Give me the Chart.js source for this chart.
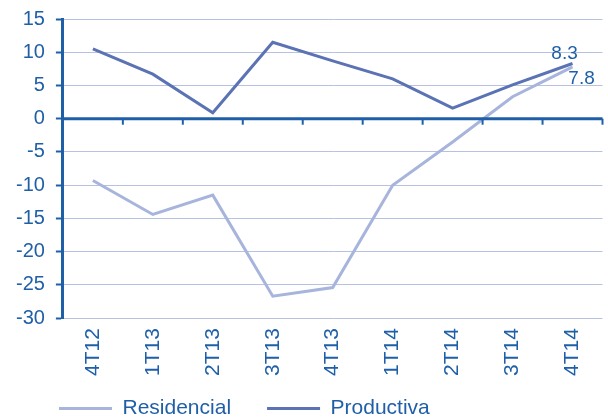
<!DOCTYPE html>
<html>
<head>
<meta charset="utf-8">
<script src="https://cdn.jsdelivr.net/npm/chart.js"></script>
<style>
  html, body { margin: 0; padding: 0; background: #fff; }
  #wrap { width: 608px; height: 420px; }
</style>
</head>
<body>
<div id="wrap"><canvas id="chart" width="608" height="420"></canvas></div>
<script>
const categories = ['4T12', '1T13', '2T13', '3T13', '4T13', '1T14', '2T14', '3T14', '4T14'];
const residencial = [-9.3, -14.4, -11.5, -26.7, -25.4, -10.0, -3.5, 3.3, 7.8];
const productiva = [10.5, 6.7, 0.9, 11.5, 8.7, 6.0, 1.6, 5.1, 8.3];
const yTicks = [15, 10, 5, 0, -5, -10, -15, -20, -25, -30];

const axisBlue = '#1f5fa8';
const gridBlue = '#b7c2e2';
const fontFamily = '"Liberation Sans", Arial, sans-serif';

// zero line with tick marks between categories, plus end labels
const zeroAxis = {
  id: 'zeroAxis',
  afterLayout(chart) {
    // legend uses wide padding for item spacing; pull it up and right
    chart.legend.left += 18;
    chart.legend.top -= 24;
  },
  afterDatasetsDraw(chart) {
    const ctx = chart.ctx;
    const x = chart.scales.x, y = chart.scales.y;
    const y0 = y.getPixelForValue(0);
    const step = x.getPixelForValue(1) - x.getPixelForValue(0);
    ctx.save();
    ctx.strokeStyle = axisBlue;
    ctx.lineWidth = 3;
    ctx.beginPath();
    ctx.moveTo(chart.chartArea.left, y0);
    ctx.lineTo(chart.chartArea.right, y0);
    ctx.stroke();
    ctx.lineWidth = 2;
    for (let i = 0; i < categories.length; i++) {
      const px = x.getPixelForValue(i) + step / 2;
      ctx.beginPath();
      ctx.moveTo(px, y0);
      ctx.lineTo(px, y0 + 6);
      ctx.stroke();
    }
    // last-value labels
    const last = categories.length - 1;
    ctx.fillStyle = axisBlue;
    ctx.font = '19px ' + fontFamily;
    ctx.textAlign = 'center';
    ctx.textBaseline = 'middle';
    const px = x.getPixelForValue(last);
    ctx.fillText(productiva[last].toFixed(1), px - 8, y.getPixelForValue(productiva[last]) - 10);
    ctx.fillText(residencial[last].toFixed(1), px + 9, y.getPixelForValue(residencial[last]) + 12);
    ctx.restore();
  }
};

new Chart(document.getElementById('chart'), {
  type: 'line',
  data: {
    labels: categories,
    datasets: [
      {
        label: 'Residencial',
        data: residencial,
        borderColor: '#a7b4dc',
        backgroundColor: '#a7b4dc',
        borderWidth: 3,
        pointRadius: 0,
        tension: 0
      },
      {
        label: 'Productiva',
        data: productiva,
        borderColor: '#5b72b4',
        backgroundColor: '#5b72b4',
        borderWidth: 3,
        pointRadius: 0,
        tension: 0
      }
    ]
  },
  options: {
    responsive: false,
    animation: false,
    layout: { padding: { left: 5, right: 5, top: 0, bottom: -33 } },
    plugins: {
      tooltip: { enabled: false },
      legend: {
        position: 'bottom',
        align: 'start',
        labels: {
          usePointStyle: true,
          pointStyle: 'line',
          pointStyleWidth: 53,
          boxWidth: 53,
          boxHeight: 3,
          color: axisBlue,
          font: { family: fontFamily, size: 21 },
          padding: 36
        }
      }
    },
    scales: {
      x: {
        offset: true,
        grid: { display: false, drawTicks: false },
        border: { display: false },
        ticks: {
          color: axisBlue,
          minRotation: 90,
          maxRotation: 90,
          padding: 10,
          font: { family: fontFamily, size: 21 }
        }
      },
      y: {
        min: -30,
        max: 15,
        afterBuildTicks(scale) { scale.ticks = yTicks.map(v => ({ value: v })); },
        grid: { color: gridBlue, lineWidth: 1, tickLength: 7, tickColor: axisBlue, tickWidth: 2 },
        border: { display: true, color: axisBlue, width: 3 },
        ticks: {
          color: axisBlue,
          padding: 11,
          font: { family: fontFamily, size: 20, lineHeight: 0.8 }
        }
      }
    }
  },
  plugins: [zeroAxis]
});
</script>
</body>
</html>
